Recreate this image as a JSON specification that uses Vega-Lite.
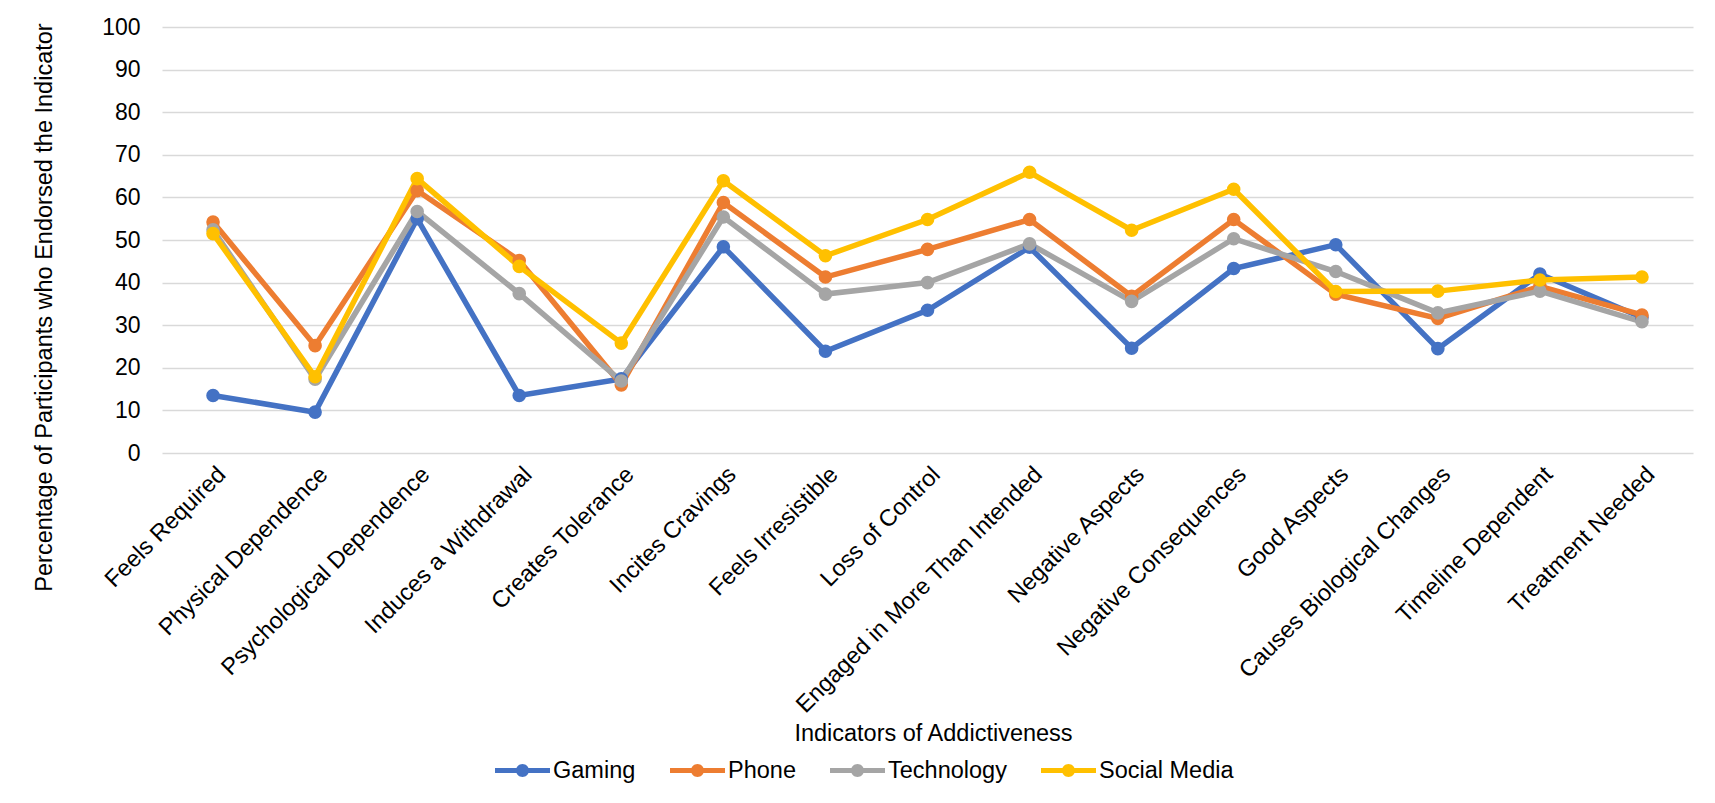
{
  "$schema": "https://vega.github.io/schema/vega-lite/v6.json",
  "autosize": "none",
  "width": 1531,
  "height": 426,
  "padding": {"left": 162, "top": 27, "right": 22, "bottom": 350},
  "background": "white",
  "config": {
    "font": "Liberation Sans",
    "view": {"stroke": null},
    "axis": {"labelColor": "#000000", "titleColor": "#000000", "titleFontWeight": "normal", "labelFont": "Liberation Sans", "titleFont": "Liberation Sans"},
    "legend": {"labelColor": "#000000", "labelFont": "Liberation Sans"}
  },
  "data": {
    "values": [
      {"indicator": "Feels Required", "group": "Gaming", "pct": 13.5},
      {"indicator": "Physical Dependence", "group": "Gaming", "pct": 9.6},
      {"indicator": "Psychological Dependence", "group": "Gaming", "pct": 55.0},
      {"indicator": "Induces a Withdrawal", "group": "Gaming", "pct": 13.5},
      {"indicator": "Creates Tolerance", "group": "Gaming", "pct": 17.4},
      {"indicator": "Incites Cravings", "group": "Gaming", "pct": 48.4},
      {"indicator": "Feels Irresistible", "group": "Gaming", "pct": 23.9},
      {"indicator": "Loss of Control", "group": "Gaming", "pct": 33.5},
      {"indicator": "Engaged in More Than Intended", "group": "Gaming", "pct": 48.3},
      {"indicator": "Negative Aspects", "group": "Gaming", "pct": 24.6},
      {"indicator": "Negative Consequences", "group": "Gaming", "pct": 43.3},
      {"indicator": "Good Aspects", "group": "Gaming", "pct": 48.9},
      {"indicator": "Causes Biological Changes", "group": "Gaming", "pct": 24.5},
      {"indicator": "Timeline Dependent", "group": "Gaming", "pct": 42.0},
      {"indicator": "Treatment Needed", "group": "Gaming", "pct": 31.8},
      {"indicator": "Feels Required", "group": "Phone", "pct": 54.2},
      {"indicator": "Physical Dependence", "group": "Phone", "pct": 25.2},
      {"indicator": "Psychological Dependence", "group": "Phone", "pct": 61.6},
      {"indicator": "Induces a Withdrawal", "group": "Phone", "pct": 45.2},
      {"indicator": "Creates Tolerance", "group": "Phone", "pct": 16.0},
      {"indicator": "Incites Cravings", "group": "Phone", "pct": 58.8},
      {"indicator": "Feels Irresistible", "group": "Phone", "pct": 41.3},
      {"indicator": "Loss of Control", "group": "Phone", "pct": 47.8},
      {"indicator": "Engaged in More Than Intended", "group": "Phone", "pct": 54.8},
      {"indicator": "Negative Aspects", "group": "Phone", "pct": 36.8},
      {"indicator": "Negative Consequences", "group": "Phone", "pct": 54.8},
      {"indicator": "Good Aspects", "group": "Phone", "pct": 37.3},
      {"indicator": "Causes Biological Changes", "group": "Phone", "pct": 31.6},
      {"indicator": "Timeline Dependent", "group": "Phone", "pct": 39.1},
      {"indicator": "Treatment Needed", "group": "Phone", "pct": 32.4},
      {"indicator": "Feels Required", "group": "Technology", "pct": 52.4},
      {"indicator": "Physical Dependence", "group": "Technology", "pct": 17.3},
      {"indicator": "Psychological Dependence", "group": "Technology", "pct": 56.7},
      {"indicator": "Induces a Withdrawal", "group": "Technology", "pct": 37.4},
      {"indicator": "Creates Tolerance", "group": "Technology", "pct": 16.9},
      {"indicator": "Incites Cravings", "group": "Technology", "pct": 55.4},
      {"indicator": "Feels Irresistible", "group": "Technology", "pct": 37.3},
      {"indicator": "Loss of Control", "group": "Technology", "pct": 40.0},
      {"indicator": "Engaged in More Than Intended", "group": "Technology", "pct": 49.1},
      {"indicator": "Negative Aspects", "group": "Technology", "pct": 35.6},
      {"indicator": "Negative Consequences", "group": "Technology", "pct": 50.3},
      {"indicator": "Good Aspects", "group": "Technology", "pct": 42.6},
      {"indicator": "Causes Biological Changes", "group": "Technology", "pct": 32.9},
      {"indicator": "Timeline Dependent", "group": "Technology", "pct": 38.0},
      {"indicator": "Treatment Needed", "group": "Technology", "pct": 30.8},
      {"indicator": "Feels Required", "group": "Social Media", "pct": 51.5},
      {"indicator": "Physical Dependence", "group": "Social Media", "pct": 17.9},
      {"indicator": "Psychological Dependence", "group": "Social Media", "pct": 64.4},
      {"indicator": "Induces a Withdrawal", "group": "Social Media", "pct": 43.8},
      {"indicator": "Creates Tolerance", "group": "Social Media", "pct": 25.8},
      {"indicator": "Incites Cravings", "group": "Social Media", "pct": 63.9},
      {"indicator": "Feels Irresistible", "group": "Social Media", "pct": 46.3},
      {"indicator": "Loss of Control", "group": "Social Media", "pct": 54.8},
      {"indicator": "Engaged in More Than Intended", "group": "Social Media", "pct": 65.9},
      {"indicator": "Negative Aspects", "group": "Social Media", "pct": 52.3},
      {"indicator": "Negative Consequences", "group": "Social Media", "pct": 61.9},
      {"indicator": "Good Aspects", "group": "Social Media", "pct": 37.9},
      {"indicator": "Causes Biological Changes", "group": "Social Media", "pct": 38.0},
      {"indicator": "Timeline Dependent", "group": "Social Media", "pct": 40.6},
      {"indicator": "Treatment Needed", "group": "Social Media", "pct": 41.3}
    ]
  },
  "mark": {"type": "line", "strokeWidth": 5.5, "point": {"filled": true, "size": 185, "opacity": 1}},
  "encoding": {
    "x": {
      "field": "indicator",
      "type": "ordinal",
      "sort": null,
      "scale": {"type": "point", "padding": 0.5},
      "axis": {
        "title": "Indicators of Addictiveness",
        "titleFontSize": 23.5,
        "titleX": 771,
        "titleY": 287,
        "titleBaseline": "alphabetic",
        "labelAngle": -45,
        "labelAlign": "right",
        "labelBaseline": "top",
        "labelFontSize": 23.5,
        "labelPadding": 9,
        "labelLimit": 0,
        "labelOverlap": false,
        "labelFlush": false,
        "ticks": false,
        "tickSize": 0,
        "domain": false,
        "grid": false
      }
    },
    "y": {
      "field": "pct",
      "type": "quantitative",
      "scale": {"domain": [0, 100], "nice": false, "zero": true},
      "axis": {
        "title": "Percentage of Participants who Endorsed the Indicator",
        "titleFontSize": 23.5,
        "titleX": -118,
        "titleY": 280,
        "titleBaseline": "middle",
        "titleAngle": -90,
        "values": [0, 10, 20, 30, 40, 50, 60, 70, 80, 90, 100],
        "labelFontSize": 23,
        "labelPadding": 22,
        "ticks": false,
        "tickSize": 0,
        "domain": false,
        "grid": true,
        "gridColor": "#D9D9D9",
        "gridWidth": 1.4
      }
    },
    "color": {
      "field": "group",
      "type": "nominal",
      "sort": null,
      "scale": {
        "domain": ["Gaming", "Phone", "Technology", "Social Media"],
        "range": ["#4472C4", "#ED7D31", "#A5A5A5", "#FFC000"]
      },
      "legend": {
        "title": null,
        "orient": "none",
        "direction": "horizontal",
        "legendX": 333,
        "legendY": 716,
        "padding": 0,
        "symbolType": "M-1,-0.09L1,-0.09L1,0.09L-1,0.09Z M0.236,0A0.236,0.236,0,1,1,-0.236,0A0.236,0.236,0,1,1,0.236,0Z",
        "symbolSize": 3025,
        "symbolStrokeWidth": 0,
        "symbolOpacity": 1,
        "labelFontSize": 23.5,
        "labelOffset": 3,
        "columnPadding": 34,
        "encode": {
          "symbols": {
            "update": {
              "fill": {"scale": "color", "field": "value"},
              "stroke": {"value": "transparent"},
              "opacity": {"value": 1}
            }
          }
        }
      }
    }
  }
}
